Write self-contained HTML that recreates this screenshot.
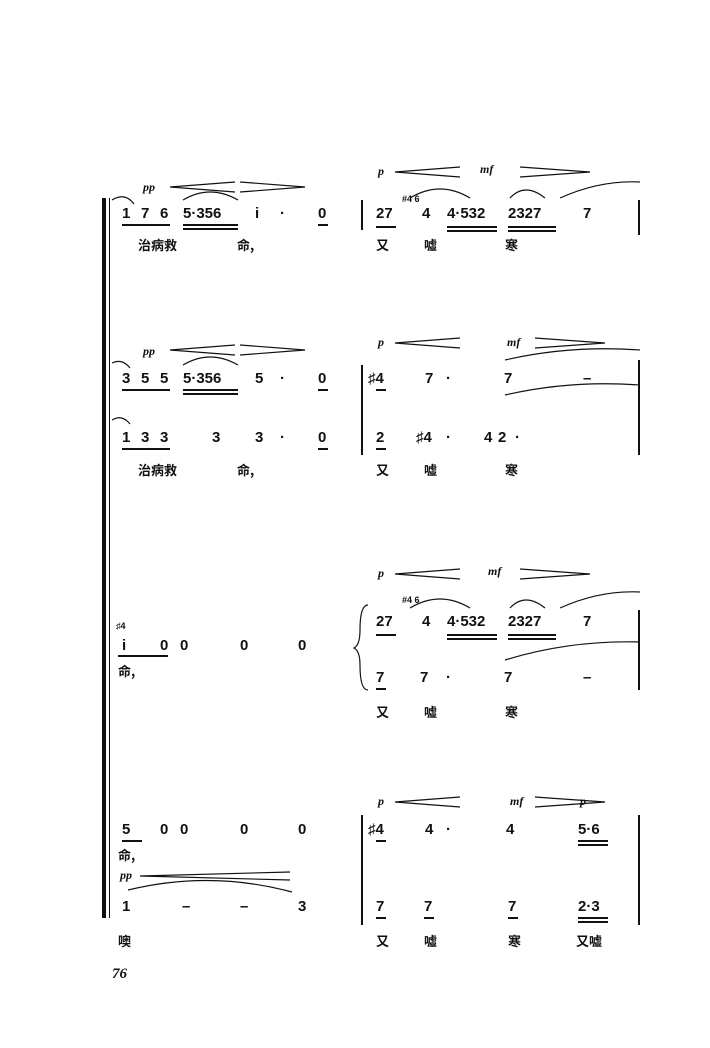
<!DOCTYPE html>
<html><head><meta charset="utf-8"><style>
body{margin:0;width:710px;height:1048px;background:#fff;position:relative;overflow:hidden;font-family:"Liberation Sans","Noto Sans CJK SC",sans-serif;color:#111}
.t{position:absolute;font-weight:bold;font-size:15px;white-space:pre;line-height:1}
.l{position:absolute;font-size:13px;font-weight:bold;line-height:1;font-family:"Noto Sans CJK SC",sans-serif}
.d{position:absolute;font-style:italic;font-family:"Liberation Serif",serif;font-size:12px;font-weight:bold}
.h{position:absolute;background:#111;height:1.5px}
.v{position:absolute;background:#111;width:1.5px}
svg{position:absolute;left:0;top:0}
</style></head><body>
<div class="v" style="left:102px;top:198px;height:720px;width:4px"></div>
<div class="v" style="left:109px;top:198px;height:720px;width:1.2px"></div>

<svg width="710" height="1048" fill="none" stroke="#111" stroke-width="1.2">
<path d="M170 187 L235 182 M170 187 L235 192 M240 182 L305 187 L240 192"/>
<path d="M395 172 L460 167 M395 172 L460 177 M520 167 L590 172 L520 177"/>
<path d="M170 350 L235 345 M170 350 L235 355 M240 345 L305 350 L240 355"/>
<path d="M395 343 L460 338 M395 343 L460 348 M535 338 L605 343 L535 348"/>
<path d="M395 574 L460 569 M395 574 L460 579 M520 569 L590 574 L520 579"/>
<path d="M395 802 L460 797 M395 802 L460 807 M535 797 L605 802 L535 807"/>
<path d="M140 876 L290 872 M140 876 L290 880"/>
<path d="M183 200 Q210 184 238 200"/><path d="M410 198 Q440 180 470 198"/><path d="M510 198 Q525 182 545 198"/><path d="M560 198 Q600 180 640 182"/>
<path d="M183 365 Q210 349 238 365"/><path d="M505 360 Q570 345 640 350"/><path d="M505 395 Q570 380 640 385"/>
<path d="M410 608 Q440 590 470 608"/><path d="M510 608 Q525 592 545 608"/><path d="M560 608 Q600 590 640 592"/><path d="M505 660 Q570 640 640 642"/>
<path d="M128 890 Q210 870 292 892"/>
<path d="M112 200 Q125 192 134 204"/><path d="M112 363 Q122 358 130 368"/><path d="M112 420 Q122 414 130 424"/>
<path d="M368 605 Q360 605 360 630 Q360 645 354 648 Q360 651 360 665 Q360 690 368 690"/>
</svg>

<div class="v" style="left:361px;top:200px;height:30px"></div><div class="v" style="left:638px;top:200px;height:35px"></div>
<div class="v" style="left:361px;top:365px;height:90px"></div><div class="v" style="left:638px;top:360px;height:95px"></div>
<div class="v" style="left:638px;top:610px;height:80px"></div>
<div class="v" style="left:361px;top:815px;height:110px"></div><div class="v" style="left:638px;top:815px;height:110px"></div>

<!-- Row 1 -->
<span class="d" style="left:143px;top:180px">pp</span>
<span class="d" style="left:378px;top:164px">p</span><span class="d" style="left:480px;top:162px">mf</span>
<span class="t" style="left:122px;top:206px">1</span><span class="t" style="left:141px;top:206px">7</span><span class="t" style="left:160px;top:206px">6</span>
<span class="t" style="left:183px;top:206px">5·356</span><span class="t" style="left:255px;top:206px">i</span><span class="t" style="left:280px;top:206px">·</span><span class="t" style="left:318px;top:206px">0</span>
<div class="h" style="left:122px;top:224px;width:48px"></div><div class="h" style="left:183px;top:224px;width:55px"></div><div class="h" style="left:183px;top:228px;width:55px"></div><div class="h" style="left:318px;top:224px;width:10px"></div>
<span class="t" style="left:376px;top:206px">27</span><span class="t" style="left:422px;top:206px">4</span><span class="t" style="left:447px;top:206px">4·532</span><span class="t" style="left:508px;top:206px">2327</span><span class="t" style="left:583px;top:206px">7</span>
<div class="h" style="left:376px;top:226px;width:20px"></div><div class="h" style="left:447px;top:226px;width:50px"></div><div class="h" style="left:447px;top:230px;width:50px"></div><div class="h" style="left:508px;top:226px;width:48px"></div><div class="h" style="left:508px;top:230px;width:48px"></div>
<span class="t" style="left:402px;top:195px;font-size:9px">#4 6</span>
<span class="l" style="left:138px;top:238px">治病救</span><span class="l" style="left:237px;top:238px">命,</span>
<span class="l" style="left:376px;top:238px">又</span><span class="l" style="left:424px;top:238px">嘘</span><span class="l" style="left:505px;top:238px">寒</span>

<!-- Row 2 -->
<span class="d" style="left:143px;top:344px">pp</span>
<span class="d" style="left:378px;top:335px">p</span><span class="d" style="left:507px;top:335px">mf</span>
<span class="t" style="left:122px;top:371px">3</span><span class="t" style="left:141px;top:371px">5</span><span class="t" style="left:160px;top:371px">5</span>
<span class="t" style="left:183px;top:371px">5·356</span><span class="t" style="left:255px;top:371px">5</span><span class="t" style="left:280px;top:371px">·</span><span class="t" style="left:318px;top:371px">0</span>
<div class="h" style="left:122px;top:389px;width:48px"></div><div class="h" style="left:183px;top:389px;width:55px"></div><div class="h" style="left:183px;top:393px;width:55px"></div><div class="h" style="left:318px;top:389px;width:10px"></div>
<span class="t" style="left:368px;top:371px">♯4</span><span class="t" style="left:425px;top:371px">7</span><span class="t" style="left:446px;top:371px">·</span><span class="t" style="left:504px;top:371px">7</span><span class="t" style="left:583px;top:371px">–</span>
<div class="h" style="left:376px;top:389px;width:10px"></div>
<!-- Row 3 -->
<span class="t" style="left:122px;top:430px">1</span><span class="t" style="left:141px;top:430px">3</span><span class="t" style="left:160px;top:430px">3</span>
<span class="t" style="left:212px;top:430px">3</span><span class="t" style="left:255px;top:430px">3</span><span class="t" style="left:280px;top:430px">·</span><span class="t" style="left:318px;top:430px">0</span>
<div class="h" style="left:122px;top:448px;width:48px"></div><div class="h" style="left:318px;top:448px;width:10px"></div>
<span class="t" style="left:376px;top:430px">2</span><span class="t" style="left:416px;top:430px">♯4</span><span class="t" style="left:446px;top:430px">·</span><span class="t" style="left:484px;top:430px">4</span><span class="t" style="left:498px;top:430px">2</span><span class="t" style="left:515px;top:430px">·</span>
<div class="h" style="left:376px;top:448px;width:10px"></div>
<span class="l" style="left:138px;top:463px">治病救</span><span class="l" style="left:237px;top:463px">命,</span>
<span class="l" style="left:376px;top:463px">又</span><span class="l" style="left:424px;top:463px">嘘</span><span class="l" style="left:505px;top:463px">寒</span>

<!-- Row 4 -->
<span class="d" style="left:378px;top:566px">p</span><span class="d" style="left:488px;top:564px">mf</span>
<span class="t" style="left:116px;top:622px;font-size:9px">♯4</span>
<span class="t" style="left:122px;top:638px">i</span><span class="t" style="left:160px;top:638px">0</span><span class="t" style="left:180px;top:638px">0</span><span class="t" style="left:240px;top:638px">0</span><span class="t" style="left:298px;top:638px">0</span>
<div class="h" style="left:118px;top:655px;width:50px"></div>
<span class="l" style="left:118px;top:664px">命,</span>
<span class="t" style="left:376px;top:614px">27</span><span class="t" style="left:422px;top:614px">4</span><span class="t" style="left:447px;top:614px">4·532</span><span class="t" style="left:508px;top:614px">2327</span><span class="t" style="left:583px;top:614px">7</span>
<div class="h" style="left:376px;top:634px;width:20px"></div><div class="h" style="left:447px;top:634px;width:50px"></div><div class="h" style="left:447px;top:638px;width:50px"></div><div class="h" style="left:508px;top:634px;width:48px"></div><div class="h" style="left:508px;top:638px;width:48px"></div>
<span class="t" style="left:402px;top:596px;font-size:9px">#4 6</span>
<span class="t" style="left:376px;top:670px">7</span><span class="t" style="left:420px;top:670px">7</span><span class="t" style="left:446px;top:670px">·</span><span class="t" style="left:504px;top:670px">7</span><span class="t" style="left:583px;top:670px">–</span>
<div class="h" style="left:376px;top:688px;width:10px"></div>
<span class="l" style="left:376px;top:705px">又</span><span class="l" style="left:424px;top:705px">嘘</span><span class="l" style="left:505px;top:705px">寒</span>

<!-- Row 6 -->
<span class="d" style="left:378px;top:794px">p</span><span class="d" style="left:510px;top:794px">mf</span><span class="d" style="left:580px;top:794px">p</span>
<span class="t" style="left:122px;top:822px">5</span><span class="t" style="left:160px;top:822px">0</span><span class="t" style="left:180px;top:822px">0</span><span class="t" style="left:240px;top:822px">0</span><span class="t" style="left:298px;top:822px">0</span>
<div class="h" style="left:122px;top:840px;width:20px"></div>
<span class="l" style="left:118px;top:848px">命,</span>
<span class="t" style="left:368px;top:822px">♯4</span><span class="t" style="left:425px;top:822px">4</span><span class="t" style="left:446px;top:822px">·</span><span class="t" style="left:506px;top:822px">4</span><span class="t" style="left:578px;top:822px">5·6</span>
<div class="h" style="left:376px;top:840px;width:10px"></div><div class="h" style="left:578px;top:840px;width:30px"></div><div class="h" style="left:578px;top:844px;width:30px"></div>
<!-- Row 7 -->
<span class="d" style="left:120px;top:868px">pp</span>
<span class="t" style="left:122px;top:899px">1</span><span class="t" style="left:182px;top:899px">–</span><span class="t" style="left:240px;top:899px">–</span><span class="t" style="left:298px;top:899px">3</span>
<span class="t" style="left:376px;top:899px">7</span><span class="t" style="left:424px;top:899px">7</span><span class="t" style="left:508px;top:899px">7</span><span class="t" style="left:578px;top:899px">2·3</span>
<div class="h" style="left:376px;top:917px;width:10px"></div><div class="h" style="left:424px;top:917px;width:10px"></div><div class="h" style="left:508px;top:917px;width:10px"></div><div class="h" style="left:578px;top:917px;width:30px"></div><div class="h" style="left:578px;top:921px;width:30px"></div>
<span class="l" style="left:118px;top:934px">噢</span>
<span class="l" style="left:376px;top:934px">又</span><span class="l" style="left:424px;top:934px">嘘</span><span class="l" style="left:508px;top:934px">寒</span><span class="l" style="left:576px;top:934px">又嘘</span>

<span class="d" style="left:112px;top:966px;font-size:15px">76</span>
</body></html>
